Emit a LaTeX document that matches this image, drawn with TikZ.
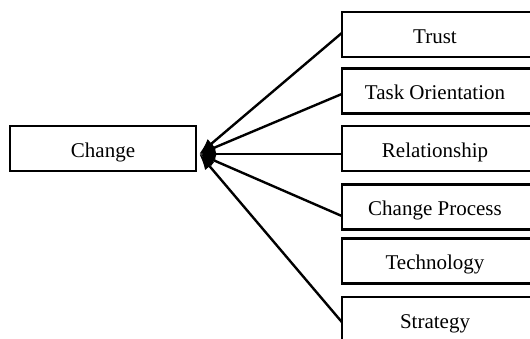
\documentclass[tikz,border=0pt]{standalone}
\usepackage{fontspec}
\setmainfont{Liberation Serif}
\usetikzlibrary{arrows.meta}
\begin{document}
\begin{tikzpicture}[x=1pt,y=-1pt,
 box/.style={minimum width=186pt, minimum height=45pt, inner sep=0pt, text height=17pt, text depth=0pt, font=\fontsize{21}{25}\selectfont},
 frame/.style={line width=2.5pt},
 link/.style={line width=2.4pt, -{Latex[length=16pt,width=12pt]}}]
\useasboundingbox (0,0) rectangle (530,338);
\node[box, draw, frame] (change) at (103,148.5) {Change};
\node[box] (trust) at (435,34.5) {Trust};
\node[box] (task) at (435,91) {Task Orientation};
\node[box] (rel) at (435,148.5) {Relationship};
\node[box] (proc) at (435,207) {Change Process};
\node[box] (tech) at (435,261) {Technology};
\node[box] (strat) at (435,319.5) {Strategy};
\foreach \n in {trust,task,rel,proc,tech,strat}
  \draw[frame] ([xshift=8pt]\n.north east) -- (\n.north west) -- (\n.south west) -- ([xshift=8pt]\n.south east);
\coordinate (tip) at ([xshift=2pt,yshift=-5.5pt]change.east);
\draw[link] ([yshift=1.5pt]trust.west) -- (tip);
\draw[link] ([yshift=-3pt]task.west) -- (tip);
\draw[link] ([yshift=-5.5pt]rel.west) -- (tip);
\draw[link] ([yshift=-9pt]proc.west) -- (tip);
\draw[link] ([yshift=-2.5pt]strat.west) -- (tip);
\end{tikzpicture}
\end{document}
